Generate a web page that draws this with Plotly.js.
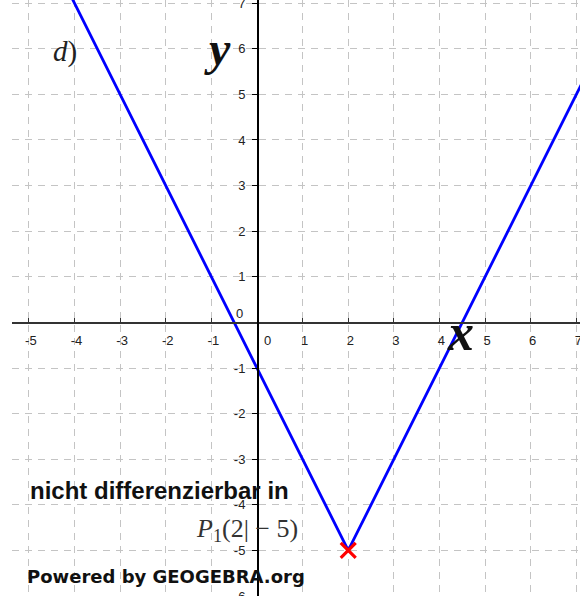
<!DOCTYPE html>
<html>
<head>
<meta charset="utf-8">
<script src="https://cdn.plot.ly/plotly-3.0.1.min.js"></script>
<style>html,body{margin:0;padding:0;background:#fff;}#chart{width:580px;height:596px;}</style>
</head>
<body>
<div id="chart"></div>
<script>
// f(x) = 2|x-2| - 5
const lineX = [-4.5, 2, 7.5];
const lineY = [8, -5, 6];
const pointX = [2];
const pointY = [-5];
const xTickVals = [-5, -4, -3, -2, -1, 1, 2, 3, 4, 5, 6, 7];
const xTickText = ['-5', '-4', '-3', '-2', '-1', '1', '2', '3', '4', '5', '6', '7'];
const yTickVals = [-6, -5, -4, -3, -2, -1, 1, 2, 3, 4, 5, 6, 7];
const yTickText = ['-6', '-5', '-4', '-3', '-2', '-1', '1', '2', '3', '4', '5', '6', '7'];
const xRange = [-5.37, 7.08];
const yRange = [-6.0, 7.07];

const traces = [
  {x: lineX, y: lineY, mode: 'lines', line: {color: '#0000ff', width: 2.8}, hoverinfo: 'skip'},
  {x: pointX, y: pointY, mode: 'markers', marker: {symbol: 'x-thin-open', size: 15, color: '#ff0000', line: {color: '#ff0000', width: 3.2}}, cliponaxis: false}
];

const tickFont = {family: 'Liberation Sans, Arial, sans-serif', size: 13, color: '#222'};
const grid = {showgrid: true, gridcolor: '#c4c4c4', gridwidth: 1, griddash: '7px,6px'};

const layout = {
  width: 580, height: 596,
  margin: {l: 12, r: 0, t: 0, b: 0},
  paper_bgcolor: '#fff', plot_bgcolor: '#fff',
  showlegend: false,
  xaxis: Object.assign({
    range: xRange, anchor: 'free', position: (0 - yRange[0]) / (yRange[1] - yRange[0]),
    tickmode: 'array', tickvals: xTickVals, ticktext: xTickText,
    ticks: 'inside', ticklen: 4, tickcolor: '#333', tickwidth: 1,
    showline: true, linecolor: '#333', linewidth: 1.5, zeroline: false,
    tickfont: tickFont, ticklabelstandoff: 6, ticklabelshift: 2, ticklabeloverflow: 'allow'
  }, grid),
  yaxis: Object.assign({
    range: yRange, anchor: 'free', position: (0 - xRange[0]) / (xRange[1] - xRange[0]),
    tickmode: 'array', tickvals: yTickVals, ticktext: yTickText,
    ticks: 'outside', ticklen: 5, tickcolor: '#000', tickwidth: 1,
    showline: true, linecolor: '#000', linewidth: 1.8, zeroline: false,
    tickfont: tickFont, ticklabelstandoff: 4, ticklabeloverflow: 'allow'
  }, grid),
  annotations: [
    {x: -4.2, y: 5.93, xref: 'x', yref: 'y', text: '<i>d</i>)', showarrow: false,
     font: {family: 'Liberation Serif, serif', size: 29, color: '#222'}},
    {x: -0.855, y: 6.0, xref: 'x', yref: 'y', text: '<b><i>y</i></b>', showarrow: false,
     font: {family: 'Liberation Serif, serif', size: 48, color: '#111'}},
    {x: 4.47, y: -0.22, xref: 'x', yref: 'y', text: '<b><i>x</i></b>', showarrow: false,
     font: {family: 'Liberation Serif, serif', size: 52, color: '#111'}},
    {x: -0.373, y: 0.206, xref: 'x', yref: 'y', text: '0', showarrow: false, font: tickFont},
    {x: 0.241, y: -0.386, xref: 'x', yref: 'y', text: '0', showarrow: false, font: tickFont},
    {x: -5.02, y: -3.68, xref: 'x', yref: 'y', xanchor: 'left', text: '<b>nicht differenzierbar in</b>', showarrow: false,
     font: {family: 'Liberation Sans, Arial, sans-serif', size: 24, color: '#111'}},
    {x: 0.943, y: -4.55, xref: 'x', yref: 'y', xanchor: 'right', text: '<i>P</i><sub>1</sub>(2|\u00a0− 5)', showarrow: false,
     font: {family: 'Liberation Serif, serif', size: 26, color: '#333'}},
    {x: -5.09, y: -5.58, xref: 'x', yref: 'y', xanchor: 'left', text: '<b>Powered by GEOGEBRA.org</b>', showarrow: false,
     font: {family: 'DejaVu Sans, sans-serif', size: 18, color: '#111'}}
  ]
};

Plotly.newPlot('chart', traces, layout, {staticPlot: true, displayModeBar: false});
</script>
</body>
</html>
